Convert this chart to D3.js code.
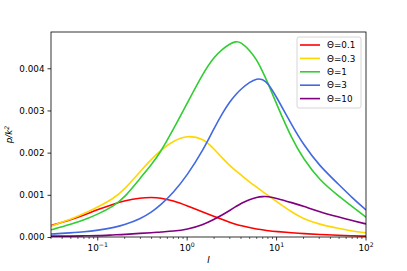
<!DOCTYPE html>
<html>
<head>
<meta charset="utf-8">
<script src="https://d3js.org/d3.v7.min.js"></script>
<style>
  body { margin: 0; background: #fff; }
  svg text { font-family: "DejaVu Sans", sans-serif; }
</style>
</head>
<body>
<div id="chart"></div>
<script>
// intensity grid (x axis, log)
var iValues = [0.03, 0.05, 0.07, 0.1, 0.15, 0.2, 0.3, 0.4, 0.5, 0.7, 1, 1.5, 2, 2.5, 3, 3.5, 4, 5, 6, 7, 8, 10, 15, 20, 30, 50, 70, 100];

// p/k^2, one array per theta
var theta01  = [0.00027, 0.00041, 0.00052, 0.00065, 0.00078, 0.00086, 0.00093, 0.00094, 0.00093, 0.00086, 0.00074, 0.00059, 0.00049, 0.00041, 0.00035, 0.00030, 0.00027, 0.00022, 0.00019, 0.00017, 0.00015, 0.00013, 0.00010, 0.00008, 0.00006, 0.00004, 0.00003, 0.00002];
var theta03  = [0.00026, 0.00042, 0.00055, 0.00071, 0.00091, 0.00113, 0.00156, 0.00185, 0.00205, 0.00228, 0.00241, 0.00234, 0.00209, 0.00186, 0.00169, 0.00157, 0.00147, 0.00130, 0.00118, 0.00107, 0.00099, 0.00084, 0.00058, 0.00043, 0.00030, 0.00020, 0.00014, 0.00010];
var theta1   = [0.00017, 0.00030, 0.00040, 0.00054, 0.00073, 0.00094, 0.00140, 0.00172, 0.00200, 0.00255, 0.00317, 0.00388, 0.00427, 0.00446, 0.00458, 0.00464, 0.00462, 0.00443, 0.00420, 0.00392, 0.00365, 0.00315, 0.00230, 0.00185, 0.00135, 0.00096, 0.00072, 0.00047];
var theta3   = [0.00007, 0.00010, 0.00012, 0.00016, 0.00022, 0.00029, 0.00043, 0.00059, 0.00075, 0.00105, 0.00146, 0.00205, 0.00258, 0.00295, 0.00321, 0.00338, 0.00351, 0.00367, 0.00376, 0.00374, 0.00365, 0.00332, 0.00263, 0.00219, 0.00169, 0.00124, 0.00093, 0.00064];
var theta10  = [0.00002, 0.00002, 0.00003, 0.00003, 0.00005, 0.00006, 0.00009, 0.00010, 0.00012, 0.00014, 0.00018, 0.00029, 0.00042, 0.00053, 0.00063, 0.00072, 0.00080, 0.00089, 0.00094, 0.00096, 0.00096, 0.00092, 0.00081, 0.00073, 0.00060, 0.00047, 0.00039, 0.00031];

var seriesNames = ["Θ=0.1", "Θ=0.3", "Θ=1", "Θ=3", "Θ=10"];
var seriesColors = ["#ff0000", "#ffd700", "#32cd32", "#4169e1", "#800080"];
var seriesValues = [theta01, theta03, theta1, theta3, theta10];

var yTicks = [0, 0.001, 0.002, 0.003, 0.004];
var xTicks = [0.1, 1, 10, 100];
var xTickExp = ["\u22121", "0", "1", "2"];

var width = 407, height = 271;
var margin = { top: 32, right: 41, bottom: 34, left: 51 };

var svg = d3.select("#chart").append("svg")
  .attr("width", width)
  .attr("height", height);

var x = d3.scaleLog()
  .domain([0.03, 100])
  .range([margin.left, width - margin.right]);

var y = d3.scaleLinear()
  .domain([0, 0.00486])
  .range([height - margin.bottom, margin.top]);

// clip the curves to the axes box
svg.append("clipPath").attr("id", "clip")
  .append("rect")
  .attr("x", margin.left).attr("y", margin.top)
  .attr("width", x.range()[1] - x.range()[0])
  .attr("height", y.range()[0] - y.range()[1]);

var line = d3.line()
  .x(function(d) { return x(d.i); })
  .y(function(d) { return y(d.v); })
  .curve(d3.curveBasis);

seriesValues.forEach(function(vals, k) {
  var pts = iValues.map(function(iv, j) { return { i: iv, v: vals[j] }; });
  svg.append("path")
    .attr("clip-path", "url(#clip)")
    .attr("d", line(pts))
    .attr("fill", "none")
    .attr("stroke", seriesColors[k])
    .attr("stroke-width", 1.6)
    .attr("stroke-linejoin", "round");
});

// y axis
var yAxis = svg.append("g")
  .attr("transform", "translate(" + margin.left + ",0)")
  .call(d3.axisLeft(y).tickValues(yTicks).tickFormat(d3.format(".3f")).tickSize(3.5).tickPadding(3));
yAxis.select(".domain").remove();
yAxis.selectAll("text").attr("font-size", 8.8).attr("fill", "#000").style("font-family", "DejaVu Sans");
yAxis.selectAll("line").attr("stroke-width", 0.8);

// x axis: major + minor ticks
var minor = [];
[0.01, 0.1, 1, 10].forEach(function(dec) {
  for (var m = 2; m <= 9; m++) {
    var v = m * dec;
    if (v >= 0.03 && v <= 100) minor.push(v);
  }
});
var xAxisG = svg.append("g")
  .attr("transform", "translate(0," + (height - margin.bottom) + ")");
xAxisG.selectAll(".minor").data(minor).enter().append("line")
  .attr("x1", function(d) { return x(d); }).attr("x2", function(d) { return x(d); })
  .attr("y1", 0).attr("y2", 2)
  .attr("stroke", "#000").attr("stroke-width", 0.6);
xAxisG.selectAll(".major").data(xTicks).enter().append("line")
  .attr("x1", function(d) { return x(d); }).attr("x2", function(d) { return x(d); })
  .attr("y1", 0).attr("y2", 3.5)
  .attr("stroke", "#000").attr("stroke-width", 0.8);
var xl = xAxisG.selectAll(".lab").data(xTicks).enter().append("text")
  .attr("x", function(d) { return x(d); })
  .attr("y", 14)
  .attr("text-anchor", "middle")
  .attr("font-size", 8.8)
  .attr("fill", "#000");
xl.append("tspan").text("10");
xl.append("tspan")
  .attr("dy", -4)
  .attr("font-size", 6.2)
  .text(function(d, k) { return xTickExp[k]; });

// axes frame
svg.append("rect")
  .attr("x", margin.left).attr("y", margin.top)
  .attr("width", x.range()[1] - x.range()[0])
  .attr("height", y.range()[0] - y.range()[1])
  .attr("fill", "none")
  .attr("stroke", "#000")
  .attr("stroke-width", 0.8);

// axis labels
svg.append("text")
  .attr("x", (margin.left + width - margin.right) / 2)
  .attr("y", 263)
  .attr("text-anchor", "middle")
  .attr("font-size", 8.8)
  .attr("font-style", "italic")
  .text("I");

var ylab = svg.append("text")
  .attr("transform", "translate(12," + ((y.range()[0] + y.range()[1]) / 2) + ") rotate(-90)")
  .attr("text-anchor", "middle")
  .attr("font-size", 8.8)
  .attr("font-style", "italic");
ylab.append("tspan").text("p/k");
ylab.append("tspan").attr("dy", -3.5).attr("font-size", 6.2).text("2");

// legend
var lg = svg.append("g").attr("transform", "translate(297,37)");
lg.append("rect")
  .attr("width", 64).attr("height", 71)
  .attr("rx", 2)
  .attr("fill", "#fff").attr("fill-opacity", 0.8)
  .attr("stroke", "#ccc").attr("stroke-width", 0.8);
seriesNames.forEach(function(name, k) {
  var row = lg.append("g").attr("transform", "translate(0," + (8 + k * 13.4) + ")");
  row.append("line")
    .attr("x1", 3).attr("x2", 23)
    .attr("stroke", seriesColors[k]).attr("stroke-width", 1.6);
  row.append("text")
    .attr("x", 30).attr("y", 3.2)
    .attr("font-size", 8.8)
    .text(name);
});
</script>
</body>
</html>
